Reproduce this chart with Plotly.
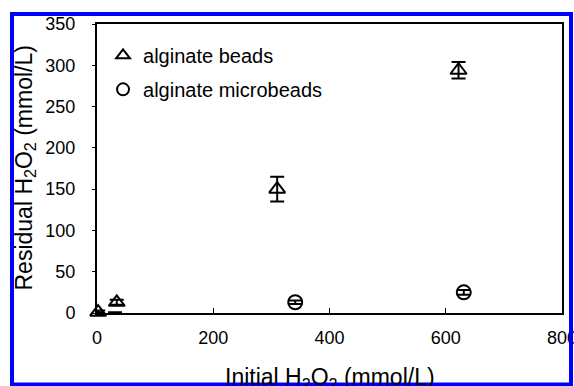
import plotly.graph_objects as go

# Data
beads_x = [2, 34, 310, 622]
beads_y = [1, 13, 150, 294]
beads_err = [2, 3, 15, 10]

micro_x = [0, 31, 341, 631]
micro_y = [-1, -1, 13, 25]
micro_err = [2, 2, 2, 3]

x_ticks = [0, 200, 400, 600, 800]
y_ticks = [0, 50, 100, 150, 200, 250, 300, 350]

FONT = "Arial, Liberation Sans, sans-serif"

W, H = 574, 386
L, R, T, B = 97, 12, 24, 73
PW = W - L - R   # 465
PH = H - T - B   # 289


def px(xp):  # page x -> paper
    return (xp - L) / PW


def py(yp):  # page y -> paper
    return (H - B - yp) / PH


fig = go.Figure()
fig.add_trace(go.Scatter(
    x=beads_x, y=beads_y, mode="markers", name="alginate beads",
    legendgroup="a",
    marker=dict(symbol="triangle-up-open", size=14, color="black",
                line=dict(width=2, color="black")),
    error_y=dict(type="data", array=beads_err, color="black", thickness=2, width=7),
    cliponaxis=False,
))
fig.add_trace(go.Scatter(
    x=micro_x, y=micro_y, mode="markers", name="alginate microbeads",
    legendgroup="b",
    marker=dict(symbol="circle-open", size=14, color="black",
                line=dict(width=2, color="black")),
    error_y=dict(type="data", array=micro_err, color="black", thickness=2, width=7),
    cliponaxis=False,
))

fig.update_layout(
    width=W, height=H, autosize=False,
    margin=dict(l=L, r=R, t=T, b=B),
    paper_bgcolor="white", plot_bgcolor="white",
    font=dict(family=FONT, color="black", size=18),
    showlegend=True,
    legend=dict(x=0.013, y=0.959, xanchor="left", yanchor="top",
                bgcolor="rgba(0,0,0,0)", font=dict(size=20, family=FONT),
                traceorder="grouped", tracegroupgap=5, itemsizing="constant"),
    xaxis=dict(range=[0, 800], tickvals=x_ticks, ticks="inside", ticklen=5,
               tickwidth=1, tickcolor="black", showgrid=False, zeroline=False,
               showline=True, linewidth=2, linecolor="black", mirror=True,
               ticklabelstandoff=7, tickfont=dict(size=18),
               ticklabeloverflow="allow", automargin=False),
    yaxis=dict(range=[0, 350], tickvals=y_ticks, ticks="outside", ticklen=3,
               tickwidth=1, tickcolor="black", showgrid=False, zeroline=False,
               showline=True, linewidth=2, linecolor="black", mirror=True,
               ticklabelstandoff=13, tickfont=dict(size=18),
               ticklabeloverflow="allow", automargin=False),
    annotations=[
        dict(text="Initial H<sub>2</sub>O<sub>2</sub> (mmol/L)", xref="paper", yref="paper",
             x=0.5, y=py(378), xanchor="center", yanchor="middle", showarrow=False,
             font=dict(size=23, family=FONT)),
        dict(text="Residual H<sub>2</sub>O<sub>2</sub> (mmol/L)", xref="paper", yref="paper",
             x=px(25), y=0.5, xanchor="center", yanchor="middle", showarrow=False,
             textangle=-90, font=dict(size=23, family=FONT)),
    ],
    shapes=[
        dict(type="rect", xref="paper", yref="paper",
             x0=px(12), x1=px(571),
             y0=py(384.5), y1=py(14),
             line=dict(color="#0000ff", width=4), layer="above"),
    ],
)

fig.write_html(
    "out.html",
    config={"responsive": False, "displayModeBar": False},
    post_script="document.body.style.margin='0';document.body.style.overflow='hidden';",
)
